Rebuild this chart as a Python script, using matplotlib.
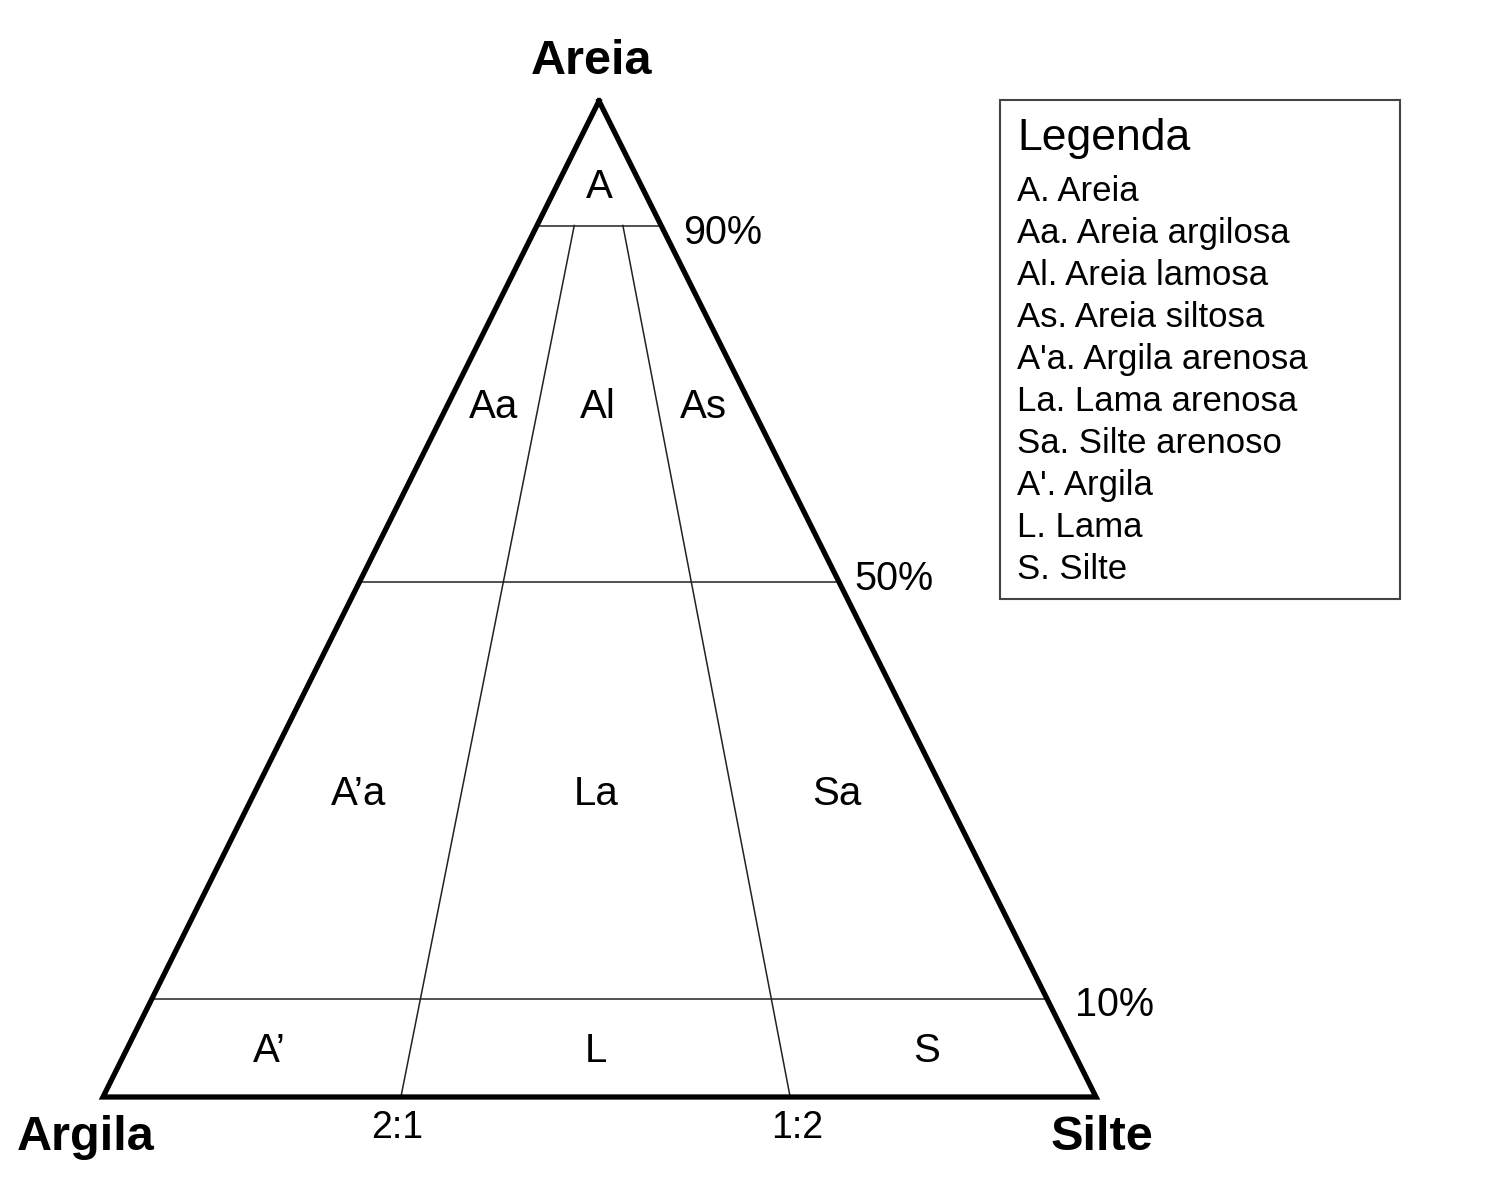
import numpy as np
import matplotlib.pyplot as plt

plt.rcParams['font.family'] = ['Liberation Sans', 'DejaVu Sans']

# classification limits (sand fraction, and clay:silt split read along the base)
sand_levels = [0.875, 0.517, 0.098]
sand_labels = ['90%', '50%', '10%']
ratio_cuts = [0.300, 0.692]
ratio_labels = ['2:1', '1:2']
vertex_names = ['Areia', 'Argila', 'Silte']

region_codes = [['A'],
                ['Aa', 'Al', 'As'],
                ['A\u2019a', 'La', 'Sa'],
                ['A\u2019', 'L', 'S']]

legend_title = 'Legenda'
legend_items = ['A. Areia', 'Aa. Areia argilosa', 'Al. Areia lamosa',
                'As. Areia siltosa', "A'a. Argila arenosa", 'La. Lama arenosa',
                'Sa. Silte arenoso', "A'. Argila", 'L. Lama', 'S. Silte']

# frame of the diagram on the page (pixel units)
apex = np.array([599.0, 101.0])
left = np.array([103.0, 1097.0])
right = np.array([1096.0, 1097.0])


def tern(s, r):
    # s = sand fraction, r = position along the clay->silt base
    base = left + r*(right - left)
    return apex*s + base*(1 - s)


fig = plt.figure(figsize=(15, 12), dpi=100)
ax = fig.add_axes([0, 0, 1, 1])
ax.set_xlim(0, 1500)
ax.set_ylim(1200, 0)
ax.axis('off')

lw_in = 1.1
col_in = '#222222'

# sand level lines
pct_off = [(22, 3), (15, -7), (28, 2)]
for s, lab, (dx, dy) in zip(sand_levels, sand_labels, pct_off):
    p0, p1 = tern(s, 0), tern(s, 1)
    ax.plot([p0[0], p1[0]], [p0[1], p1[1]], color=col_in, lw=lw_in, zorder=2)
    ax.text(p1[0] + dx, p1[1] + dy, lab, fontsize=28.5, ha='left', va='center_baseline')

# ratio lines, from base up to the top sand level
for r, lab, dx in zip(ratio_cuts, ratio_labels, [-4, 7]):
    p0, p1 = tern(0, r), tern(sand_levels[0], r)
    ax.plot([p0[0], p1[0]], [p0[1], p1[1]], color=col_in, lw=lw_in, zorder=2)
    ax.text(p0[0] + dx, p0[1] + 27, lab, fontsize=27, ha='center', va='center_baseline')

# outline
tri = np.array([apex, left, right, apex])
ax.plot(tri[:, 0], tri[:, 1], color='black', lw=3.8, solid_joinstyle='miter', zorder=3)

# vertex names
ax.text(apex[0] - 7, 57, vertex_names[0], fontsize=35, fontweight='bold', ha='center', va='center_baseline')
ax.text(left[0] - 17, 1132, vertex_names[1], fontsize=35, fontweight='bold', ha='center', va='center_baseline')
ax.text(right[0] + 6, 1132, vertex_names[2], fontsize=35, fontweight='bold', ha='center', va='center_baseline')

# region labels
bands = [1.0] + sand_levels + [0.0]
cuts = [0.0] + ratio_cuts + [1.0]
for i, row in enumerate(region_codes):
    if len(row) == 1:
        s_mid = (bands[0] + 2*bands[1])/3
        r_mids = [0.5]
    else:
        s_mid = (bands[i] + bands[i+1])/2
        r_mids = [(cuts[j] + cuts[j+1])/2 for j in range(len(row))]
    for code, r in zip(row, r_mids):
        p = tern(s_mid, r)
        ax.text(p[0], p[1] - 1, code, fontsize=29, ha='center', va='center_baseline')

# legend box
ax.add_patch(plt.Rectangle((1000, 100), 400, 499, fill=False, edgecolor='#444444', lw=1.5))
ax.text(1017, 134, legend_title, fontsize=32, ha='left', va='center_baseline')
for k, item in enumerate(legend_items):
    ax.text(1017, 188 + 42*k, item, fontsize=25, ha='left', va='center_baseline')

plt.savefig('out.png', dpi=100, facecolor='white')
plt.close()
